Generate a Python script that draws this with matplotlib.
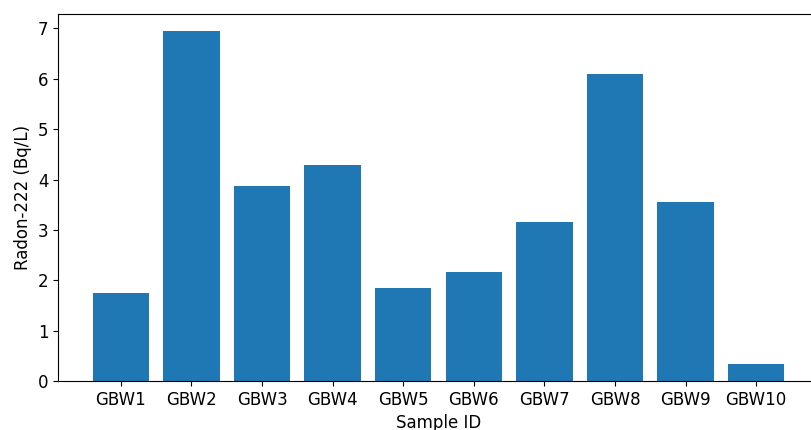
import matplotlib.pyplot as plt

samples = ["GBW1", "GBW2", "GBW3", "GBW4", "GBW5",
           "GBW6", "GBW7", "GBW8", "GBW9", "GBW10"]
radon = [1.75, 6.94, 3.87, 4.28, 1.85, 2.17, 3.15, 6.10, 3.56, 0.34]

plt.rcParams['font.size'] = 12

fig = plt.figure(figsize=(8.12, 4.30), dpi=100)
# the reference is a crop of a wider figure: axes run past the right edge
ax = fig.add_axes([58 / 812, 49 / 430, 761 / 812, 367 / 430])
ax.bar(samples, radon, color="#1f77b4")
ax.set_xlabel("Sample ID")
ax.set_ylabel("Radon-222 (Bq/L)")

fig.savefig("out.png", dpi=100)
